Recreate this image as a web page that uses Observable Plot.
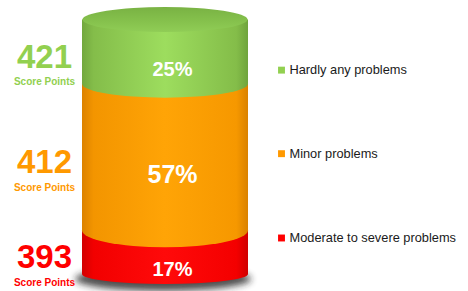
<!DOCTYPE html>
<html><head><meta charset="utf-8">
<script src="https://cdn.jsdelivr.net/npm/d3@7"></script>
<script src="https://cdn.jsdelivr.net/npm/@observablehq/plot@0.6"></script>
<style>html,body{margin:0;padding:0;background:#fff}#chart svg{display:block}</style>
</head><body><div id="chart"></div>
<script>
// ---- data (bottom of the cylinder first) ----
const categories = ["Moderate to severe problems", "Minor problems", "Hardly any problems"];
const shares = [17, 57, 25];          // percent
const scores = [393, 412, 421];       // score points
const scoreLabel = "Score Points";

// ---- styles / layout ----
const keyColors = ["#ff0000", "#ff9900", "#92d050"];
const gradIds = ["gRed", "gOrange", "gGreen"];
const cylLeft = 82, cylRight = 248;   // layout, in x units (pixels)
const labelX = 44, legendX = 281, legendTextX = 289;
const legendY = [14.2, 47.0, 79.5];    // legend rows, in y units
const total = d3.sum(shares);

const data = categories.map((c, i) => ({
  category: c, share: shares[i], score: scores[i],
  key: keyColors[i], grad: `url(#${gradIds[i]})`, ly: legendY[i]
}));

const ryAt = py => Math.min(12.5 + (py - 19) * 0.0214, 17);

function defsMark() {
  const g = d3.create("svg:g");
  const defs = g.append("defs");
  const horiz = (id, stops) => {
    const lg = defs.append("linearGradient").attr("id", id)
      .attr("x1", 0).attr("x2", 1).attr("y1", 0).attr("y2", 0);
    stops.forEach(([o, c]) => lg.append("stop").attr("offset", o).attr("stop-color", c));
  };
  horiz("gGreen", [[0, "#72a83e"], [0.07, "#84bd4a"], [0.5, "#9ddd5e"], [0.93, "#84bd49"], [1, "#6fa43c"]]);
  horiz("gOrange", [[0, "#dc8200"], [0.07, "#f39500"], [0.5, "#ffa406"], [0.93, "#f69800"], [1, "#da8200"]]);
  horiz("gRed", [[0, "#d20000"], [0.07, "#f20000"], [0.5, "#ff0a0a"], [0.93, "#f40000"], [1, "#d00000"]]);
  const top = defs.append("linearGradient").attr("id", "gTop")
    .attr("x1", 0).attr("x2", 0).attr("y1", 0).attr("y2", 1);
  [[0, "#79b243"], [0.6, "#86c24d"], [1, "#90cd56"]].forEach(([o, c]) =>
    top.append("stop").attr("offset", o).attr("stop-color", c));
  defs.append("filter").attr("id", "blur").attr("x", "-50%").attr("y", "-50%")
    .attr("width", "200%").attr("height", "200%")
    .append("feGaussianBlur").attr("stdDeviation", 3.5);
  return g.node();
}

function shadowMark(index, {x, y}) {
  const cx = (x(cylLeft) + x(cylRight)) / 2, rx = (x(cylRight) - x(cylLeft)) / 2;
  const g = d3.create("svg:g");
  g.append("ellipse").attr("cx", cx - 2).attr("cy", y(0) + 5)
    .attr("rx", rx + 5).attr("ry", 12)
    .attr("fill", "#222").attr("opacity", 0.8).attr("filter", "url(#blur)");
  return g.node();
}

function capsMark(index, {x, y}) {
  const cx = (x(cylLeft) + x(cylRight)) / 2, rx = (x(cylRight) - x(cylLeft)) / 2;
  const g = d3.create("svg:g");
  let base = 0;
  data.forEach((d, i) => {
    const cy = y(base);
    g.append("ellipse").attr("cx", cx).attr("cy", cy).attr("rx", rx)
      .attr("ry", i === 0 ? 10 : ryAt(cy)).attr("fill", d.grad);
    base += d.share;
  });
  const cyTop = y(base);
  g.append("ellipse").attr("cx", cx).attr("cy", cyTop).attr("rx", rx - 0.5).attr("ry", ryAt(cyTop))
    .attr("fill", "url(#gTop)");
  return g.node();
}

const cx = (cylLeft + cylRight) / 2;

const chart = Plot.plot({
  width: 468, height: 291, margin: 0,
  x: {type: "linear", domain: [0, 468], range: [0, 468], axis: null},
  y: {type: "linear", domain: [0, total], range: [274, 19.5], axis: null},
  color: {type: "ordinal", domain: categories, range: data.map(d => d.grad)},
  style: {fontFamily: "'Liberation Sans', Arial, sans-serif", background: "#fff", overflow: "visible"},
  marks: [
    defsMark,
    shadowMark,
    Plot.rectY(data, Plot.stackY({x1: cylLeft, x2: cylRight, y: "share", fill: "category"})),
    capsMark,
    Plot.text(data, Plot.stackY({
      x: cx + 7, y: "share", text: d => d.share + "%", fill: "white", fontWeight: "bold",
      fontSize: d => d.share > 50 ? 25 : 20, dy: 17
    })),
    Plot.text(data, Plot.stackY({
      x: labelX, y: "share", text: d => String(d.score), fill: "key", fontWeight: "bold",
      fontSize: 33, dy: 5
    })),
    Plot.text(data, Plot.stackY({
      x: labelX, y: "share", text: () => scoreLabel, fill: "key", fontWeight: "bold",
      fontSize: 10, dy: 30
    })),
    Plot.dot(data, {x: legendX, y: "ly", symbol: "square", r: 3.9, fill: "key", stroke: null}),
    Plot.text(data, {x: legendTextX, y: "ly", text: "category", textAnchor: "start",
      fill: "#1a1a1a", fontSize: 12.8})
  ]
});
document.getElementById("chart").appendChild(chart);
</script></body></html>
